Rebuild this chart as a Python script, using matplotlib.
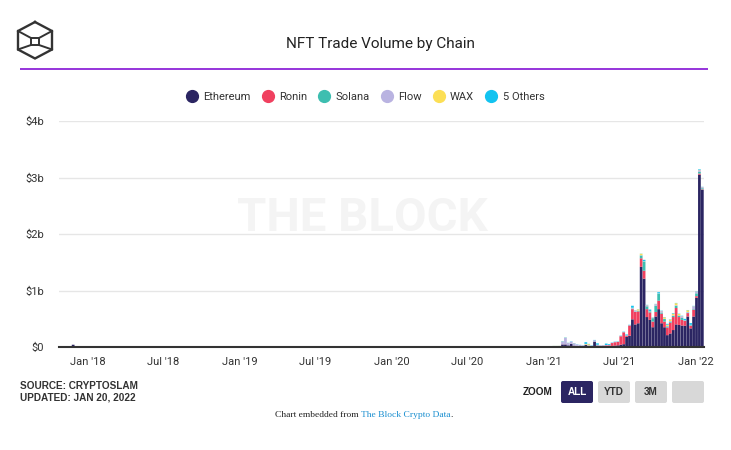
import numpy as np
import pandas as pd
import matplotlib
matplotlib.use("Agg")
import matplotlib.pyplot as plt
from matplotlib.patches import FancyBboxPatch
from matplotlib.lines import Line2D

# ---------------- data (billions USD, weekly) ----------------
main_start = "2020-10-26"
eth = [0.004, 0.004, 0.004, 0.005, 0.005, 0.006, 0.005, 0.006, 0.005, 0.006, 0.006, 0.007, 0.006, 0.006, 0.005, 0.006,
       0.045, 0.045, 0.03, 0.055, 0.025, 0.02, 0.015, 0.02, 0.035, 0.02, 0.01, 0.095, 0.025, 0.015, 0.015, 0.02, 0.015, 0.02, 0.025, 0.03,
       0.04, 0.05, 0.18, 0.20, 0.49, 0.40, 0.42, 1.42, 1.21, 0.53, 0.48, 0.35, 0.54, 0.67, 0.42, 0.35, 0.21, 0.24, 0.30, 0.40,
       0.39, 0.38, 0.375, 0.54, 0.33, 0.54, 0.87, 3.05, 2.78]
ronin = [0, 0, 0, 0, 0, 0, 0, 0, 0, 0, 0, 0.001, 0.001, 0.001, 0.001, 0.001,
         0.002, 0.002, 0, 0, 0, 0, 0, 0, 0, 0, 0, 0, 0, 0.005, 0.008, 0.01, 0.015, 0.05, 0.06, 0.06,
         0.15, 0.21, 0.02, 0.18, 0.18, 0.22, 0.21, 0.15, 0.14, 0.14, 0.13, 0.10, 0.08, 0.15, 0.17, 0.10, 0.135, 0.19, 0.23, 0.29,
         0.14, 0.10, 0.085, 0.06, 0.045, 0.12, 0.03, 0.02, 0.01]
solana = [0, 0, 0, 0, 0, 0, 0, 0, 0, 0, 0, 0, 0, 0, 0, 0,
          0, 0, 0, 0, 0, 0, 0, 0, 0, 0, 0, 0, 0, 0, 0, 0, 0, 0, 0, 0.002,
          0.003, 0.003, 0.003, 0.004, 0.01, 0.008, 0.01, 0.05, 0.16, 0.05, 0.02, 0.06, 0.11, 0.12, 0.02, 0.045, 0.02, 0.02, 0.02, 0.04,
          0.025, 0.035, 0.005, 0.01, 0.01, 0.01, 0.05, 0.03, 0.02]
flow = [0.002, 0.002, 0.002, 0.002, 0.003, 0.003, 0.003, 0.004, 0.004, 0.004, 0.005, 0.006, 0.008, 0.010, 0.011, 0.012,
        0.05, 0.115, 0.04, 0.04, 0.04, 0.025, 0.02, 0.008, 0.01, 0.01, 0.015, 0.025, 0.01, 0.008, 0.006, 0.006, 0.004, 0.005, 0.005, 0.004,
        0.004, 0.004, 0.004, 0.004, 0.01, 0.02, 0.005, 0.005, 0.005, 0.02, 0.005, 0.005, 0.025, 0.005, 0.025, 0.005, 0.01, 0.01, 0.01, 0.01,
        0.005, 0.03, 0.005, 0.01, 0.005, 0.05, 0.03, 0.03, 0.02]
wax = [0.001, 0.001, 0.001, 0.001, 0.001, 0.001, 0.001, 0.001, 0.001, 0.001, 0.001, 0.001, 0.002, 0.002, 0.002, 0.002,
       0.003, 0.003, 0.002, 0, 0.002, 0, 0, 0, 0.01, 0.02, 0, 0, 0.005, 0, 0, 0, 0, 0, 0, 0,
       0, 0, 0, 0, 0.005, 0.003, 0.02, 0.025, 0.003, 0.003, 0.003, 0.003, 0.003, 0.003, 0.003, 0.025, 0.02, 0.025, 0.03, 0.035,
       0.025, 0.003, 0.003, 0.03, 0.003, 0.003, 0.003, 0.005, 0.002]
others = [0.001, 0.001, 0, 0, 0, 0.001, 0.001, 0.001, 0.001, 0.001, 0.001, 0.001, 0.001, 0.001, 0.001, 0.001,
          0.005, 0.005, 0.003, 0.005, 0.003, 0.003, 0.003, 0.002, 0.03, 0.005, 0.005, 0.005, 0.025, 0.002, 0.003, 0.025, 0.016, 0.005, 0.005, 0.004,
          0.005, 0.005, 0.015, 0.005, 0.035, 0.002, 0.003, 0.003, 0.025, 0.003, 0.025, 0.005, 0.005, 0.022, 0.005, 0.005, 0.015, 0.005, 0.01, 0.005,
          0.005, 0.005, 0.025, 0.005, 0.03, 0.005, 0.005, 0.01, 0.003]

early_start = "2017-11-27"
early_eth = [0.04, 0.004, 0.003, 0.002]

series_names = ["Ethereum", "Ronin", "Solana", "Flow", "WAX", "5 Others"]
series_colors = ["#2b2562", "#f0405f", "#3dbeb0", "#b9b3e1", "#fcdf55", "#12c3f0"]

tick_dates = ["2018-01-01", "2018-07-01", "2019-01-01", "2019-07-01", "2020-01-01",
              "2020-07-01", "2021-01-01", "2021-07-01", "2022-01-01"]
tick_labels = ["Jan '18", "Jul '18", "Jan '19", "Jul '19", "Jan '20",
               "Jul '20", "Jan '21", "Jul '21", "Jan '22"]
y_ticks = [0, 1, 2, 3, 4]
y_labels = ["$0", "$1b", "$2b", "$3b", "$4b"]

# ---------------- figure ----------------
W, H = 731, 450
fig = plt.figure(figsize=(W / 100, H / 100), dpi=100)
fig.patch.set_facecolor("white")

def fx(px):
    return px / W

def fy(py):
    return 1 - py / H

ax_l, ax_r, ax_t, ax_b = 59, 704, 121, 347
ax = fig.add_axes([fx(ax_l), fy(ax_b), (ax_r - ax_l) / W, (ax_b - ax_t) / H])

dates = pd.date_range(main_start, periods=len(eth), freq="7D")
early_dates = pd.date_range(early_start, periods=len(early_eth), freq="7D")

bottom = np.zeros(len(eth))
for name, vals, col in zip(series_names, [eth, ronin, solana, flow, wax, others], series_colors):
    v = np.array(vals, dtype=float)
    ax.bar(dates, v, width=6.6, bottom=bottom, color=col, linewidth=0, zorder=3, snap=False)
    bottom += v
ax.bar(early_dates, early_eth, width=6.6, color=series_colors[0], linewidth=0, zorder=3, snap=False)

ax.set_xlim(pd.Timestamp("2017-10-24"), pd.Timestamp("2022-01-21"))
ax.set_ylim(0, 4)
ax.set_xticks(pd.to_datetime(tick_dates))
ax.set_xticklabels(tick_labels)
ax.set_yticks(y_ticks)
ax.set_yticklabels(y_labels)
for lab in ax.get_xticklabels() + ax.get_yticklabels():
    lab.set_fontfamily(["Roboto", "DejaVu Sans"])
    lab.set_fontsize(8)
    lab.set_color("#333333")
ax.tick_params(axis="x", length=0, pad=7)
ax.tick_params(axis="y", length=0, pad=11)
ax.grid(axis="y", color="#e6e6e6", linewidth=1, zorder=0)
for s in ["top", "right", "left"]:
    ax.spines[s].set_visible(False)
ax.spines["bottom"].set_color("#333333")
ax.spines["bottom"].set_linewidth(1.5)
ax.spines["bottom"].set_zorder(4)
ax.set_facecolor("none")

# watermark
ax.text((362 - ax_l) / (ax_r - ax_l), (ax_b - 218) / (ax_b - ax_t), "THE BLOCK",
        transform=ax.transAxes, ha="center", va="center", fontsize=34,
        fontweight="bold", color="#f4f4f4", family=["Roboto", "DejaVu Sans"], zorder=1)

# ---------------- overlay in pixel coords ----------------
ov = fig.add_axes([0, 0, 1, 1], zorder=-1)
ov.set_xlim(0, W)
ov.set_ylim(H, 0)
ov.axis("off")

# logo (cube)
lc = "#333333"
hexagon = [(35, 22), (52, 31), (52, 49.5), (35, 58.5), (18, 49.5), (18, 31), (35, 22)]
ov.plot([p[0] for p in hexagon], [p[1] for p in hexagon], color=lc, lw=1.7, solid_joinstyle="miter")
ov.plot([18, 31, 39, 52], [31, 38, 38, 31], color=lc, lw=1.4)
ov.plot([18, 31, 39, 52], [49.5, 45, 45, 49.5], color=lc, lw=1.4)
ov.plot([31, 31], [38, 45], color=lc, lw=1.4)
ov.plot([39, 39], [38, 45], color=lc, lw=1.4)

# title
ov.text(380, 44, "NFT Trade Volume by Chain", ha="center", va="center", fontsize=11,
        color="#222222", family=["Roboto", "DejaVu Sans"])
# purple rule
ov.plot([20, 708], [69, 69], color="#8e24d8", lw=1.3, solid_capstyle="butt")

# legend
handles = [Line2D([], [], marker="o", linestyle="none", markersize=8.5,
                  markerfacecolor=c, markeredgecolor=c) for c in series_colors]
leg = fig.legend(handles, series_names, loc="center", bbox_to_anchor=(fx(365), fy(97)),
                 ncol=6, frameon=False, handletextpad=0.4, columnspacing=0.95,
                 handlelength=1.2, prop={"family": ["Roboto", "DejaVu Sans"], "size": 8})
for t in leg.get_texts():
    t.set_color("#333333")

# source text
ov.text(20, 386, "SOURCE: CRYPTOSLAM", ha="left", va="center", fontsize=7.2,
        fontweight="bold", color="#333333", family=["Liberation Sans", "DejaVu Sans"])
ov.text(20, 398, "UPDATED: JAN 20, 2022", ha="left", va="center", fontsize=7.2,
        fontweight="bold", color="#333333", family=["Liberation Sans", "DejaVu Sans"])

# zoom buttons
ov.text(538, 392, "ZOOM", ha="center", va="center", fontsize=7.2, fontweight="bold",
        color="#222222", family=["Liberation Sans", "DejaVu Sans"])
buttons = [("ALL", 561, "#2b2562", "white"), ("YTD", 598, "#d8d8d8", "#333333"),
           ("3M", 635, "#d8d8d8", "#333333"), ("", 672, "#d8d8d8", "#333333")]
for lab, bx, fc, tc in buttons:
    ov.add_patch(FancyBboxPatch((bx, 381), 32, 22, boxstyle="round,pad=0,rounding_size=2",
                                facecolor=fc, edgecolor="none"))
    if lab:
        ov.text(bx + 16, 392, lab, ha="center", va="center", fontsize=7.2, fontweight="bold",
                color=tc, family=["Liberation Sans", "DejaVu Sans"])

# embedded note
renderer = fig.canvas.get_renderer()
t1 = ov.text(275, 415, "Chart embedded from ", ha="left", va="center", fontsize=6.8,
             color="#222222", family=["Liberation Serif", "DejaVu Serif"])
bb = t1.get_window_extent(renderer)
inv = ov.transData.inverted()
t2 = ov.text(inv.transform((bb.x1, 0))[0], 415, "The Block Crypto Data", ha="left", va="center",
             fontsize=6.8, color="#1a8fd0", family=["Liberation Serif", "DejaVu Serif"])
bb2 = t2.get_window_extent(renderer)
ov.text(inv.transform((bb2.x1, 0))[0], 415, ".", ha="left", va="center", fontsize=6.8,
        color="#222222", family=["Liberation Serif", "DejaVu Serif"])

fig.savefig("out.png", dpi=100, facecolor="white")
